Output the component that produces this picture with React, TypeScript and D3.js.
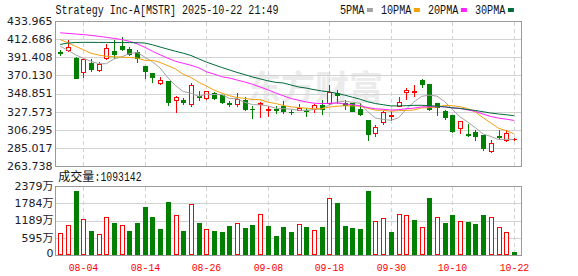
import React from "react";
import * as d3 from "d3";

const title = "Strategy Inc-A[MSTR] 2025-10-22 21:49";

const dates = [
  "07-30","07-31","08-01","08-04","08-05","08-06","08-07","08-08","08-11","08-12",
  "08-13","08-14","08-15","08-18","08-19","08-20","08-21","08-22","08-25","08-26",
  "08-27","08-28","08-29","09-02","09-03","09-04","09-05","09-08","09-09","09-10",
  "09-11","09-12","09-15","09-16","09-17","09-18","09-19","09-22","09-23","09-24",
  "09-25","09-26","09-29","09-30","10-01","10-02","10-03","10-06","10-07","10-08",
  "10-09","10-10","10-13","10-14","10-15","10-16","10-17","10-20","10-21","10-22",
];

const opens = [
  397.5, 399.8, 391.1, 373.6, 384.9, 376.4, 390.0, 399.0, 404.8, 401.3,
  397.8, 381.4, 372.9, 360.7, 363.8, 341.2, 340.8, 336.5, 346.3, 343.6,
  349.8, 347.1, 337.5, 336.1, 341.6, 331.1, 336.1, 329.5, 330.2, 333.7,
  327.5, 329.9, 329.5, 330.7, 335.7, 337.7, 349.4, 337.7, 337.7, 331.1,
  317.8, 302.6, 315.5, 322.5, 334.6, 350.6, 351.0, 364.2, 360.3, 337.3,
  328.7, 324.0, 308.0, 301.4, 304.1, 300.6, 281.5, 299.1, 294.7, 295.3,
];
const highs = [
  400.2, 411.9, 392.0, 389.6, 389.3, 385.3, 407.2, 411.1, 415.4, 402.9,
  400.2, 381.4, 373.2, 368.5, 363.8, 345.5, 343.6, 360.9, 352.1, 352.1,
  351.0, 347.4, 340.4, 349.4, 344.7, 334.6, 338.4, 333.7, 333.7, 339.6,
  329.9, 336.5, 331.9, 336.5, 341.6, 359.2, 353.3, 341.6, 337.7, 337.7,
  317.8, 312.0, 328.7, 327.9, 344.3, 355.6, 359.2, 366.2, 360.3, 337.3,
  329.9, 324.0, 316.6, 313.5, 306.4, 300.6, 294.7, 306.4, 305.6, 296.7,
];
const lows = [
  393.5, 398.2, 366.5, 367.7, 374.7, 374.7, 388.8, 390.4, 400.2, 393.5,
  385.7, 367.0, 362.3, 360.3, 334.9, 326.7, 336.5, 333.7, 340.8, 342.4,
  342.4, 338.1, 333.7, 333.7, 329.9, 319.7, 321.3, 322.8, 326.0, 326.0,
  324.8, 329.1, 322.0, 326.7, 324.8, 336.5, 337.7, 330.7, 327.9, 324.0,
  293.9, 298.6, 313.1, 317.3, 333.7, 342.4, 345.5, 356.0, 329.1, 323.2,
  319.3, 303.7, 302.6, 299.1, 294.7, 283.0, 279.9, 296.7, 292.7, 294.7,
];
const closes = [
  396.6, 402.9, 367.0, 389.3, 377.1, 383.4, 402.2, 395.5, 401.3, 395.8,
  390.8, 374.7, 367.7, 364.7, 338.9, 344.7, 339.3, 359.1, 345.1, 351.3,
  343.6, 339.3, 336.5, 342.4, 330.7, 330.3, 337.7, 330.2, 329.5, 327.9,
  326.7, 331.9, 328.7, 335.4, 330.7, 350.6, 347.1, 335.4, 328.7, 324.8,
  301.8, 309.6, 327.5, 323.2, 338.9, 353.3, 351.5, 360.3, 330.7, 333.0,
  321.3, 305.3, 316.6, 300.6, 298.6, 285.4, 290.9, 298.3, 302.6, 295.8,
];
const prevCloseBeforeFirst = 395.0;

const volumes = [
  7550000, 10300000, 22070000, 12360000, 8340000, 7210000, 13050000, 11090000, 10300000, 8340000,
  11090000, 16580000, 13150000, 9030000, 18300000, 13730000, 8340000, 17610000, 11090000, 8930000,
  8340000, 8000000, 10060000, 10990000, 9370000, 10400000, 14070000, 10060000, 6630000, 9720000,
  7760000, 10750000, 9720000, 8690000, 9720000, 19570000, 17950000, 10060000, 9370000, 9030000,
  22070000, 11780000, 12810000, 7760000, 14180000, 13840000, 12120000, 9720000, 19670000, 13050000,
  11190000, 13840000, 11780000, 11430000, 10750000, 13840000, 13050000, 9720000, 8000000, 1093142,
];

// moving-average values at the start of the window, before enough closes exist in view
const ma5Head = [404.5, 399.6, 394.3, 390.2];
const ma10Head = [412.2, 408.4, 404.2, 400.2, 396.1, 394.0, 392.5, 392.0, 391.6];
const ma20Head = [
  420.1, 419.4, 418.7, 418.0, 417.1, 416.0, 414.8, 413.5, 412.2, 410.1,
  407.2, 403.1, 398.4, 394.3, 390.2, 386.7, 384.3, 382.0, 379.1,
];
const ma30Head = [
  406.4, 408.1, 408.7, 408.9, 408.9, 408.8, 408.8, 408.7, 408.7, 408.6,
  408.5, 408.1, 406.0, 403.4, 400.9, 398.4, 396.2, 393.5, 389.6, 385.8,
  382.6, 379.5, 376.5, 373.6, 371.0, 368.3, 366.0, 363.8, 362.0,
];

const maPeriods = [5, 10, 20, 30];
const maHeads = [ma5Head, ma10Head, ma20Head, ma30Head];
const maLabels = ["5PMA", "10PMA", "20PMA", "30PMA"];
const maColors = ["#a3a3a3", "#f3a10b", "#ff22ff", "#006a3a"];

const priceTicks = [433.965, 412.686, 391.408, 370.13, 348.851, 327.573, 306.295, 285.017, 263.738];
const volumeTicksWan = [2379, 1784, 1189, 595, 0];
const dateTicks = ["08-04", "08-14", "08-26", "09-08", "09-18", "09-30", "10-10", "10-22"];

const RED = "#ff0000";
const GREEN = "#008000";
const GRID = "#d2d2d2";
const BORDER = "#9a9a9a";
const MONO = "Liberation Mono, DejaVu Sans Mono, monospace";

export default function App() {
  const W = 578, H = 276;
  const L = 55, R = 522, T = 21, B = 166, VT = 186, VB = 255;

  const x = d3.scaleLinear().domain([0, dates.length - 1]).range([60.2, 513.9]);
  const y = d3.scaleLinear().domain([263.738, 433.965]).range([B, T]);
  const vy = d3.scaleLinear().domain([0, 23790000]).range([VB, VT]);

  const ma = (n: number, head: number[]) =>
    closes.map((_, i) => (i >= n - 1 ? d3.mean(closes.slice(i - n + 1, i + 1)) as number : head[i]));
  const maSeries = maPeriods.map((n, k) => ma(n, maHeads[k]));
  const line = d3.line<number>().x((_, i) => x(i)).y((d) => y(d));

  const px = (i: number) => Math.round(x(i));

  const candles = dates.map((d, i) => {
    const o = opens[i], c = closes[i], h = highs[i], l = lows[i];
    const up = c > o;
    const color = up ? RED : GREEN;
    const cx = px(i);
    const yTop = Math.round(y(Math.max(o, c)));
    const yBot = Math.round(y(Math.min(o, c)));
    const yH = Math.round(y(h));
    const yL = Math.round(y(l));
    const elems: React.ReactNode[] = [];
    elems.push(<line key="w" x1={cx + 0.5} x2={cx + 0.5} y1={yH} y2={yL + 1} stroke={color} strokeWidth={1} />);
    if (yBot - yTop < 1) {
      elems.push(<line key="d" x1={cx - 2} x2={cx + 3} y1={yTop + 0.5} y2={yTop + 0.5} stroke={color} strokeWidth={1} />);
    } else if (up) {
      elems.push(<rect key="b" x={cx - 1.5} y={yTop + 0.5} width={4} height={yBot - yTop} fill="#fff" stroke={color} strokeWidth={1} />);
    } else {
      elems.push(<rect key="b" x={cx - 2} y={yTop} width={5} height={yBot - yTop + 1} fill={color} />);
    }
    return <g key={d}>{elems}</g>;
  });

  const volBars = volumes.map((v, i) => {
    const prev = i === 0 ? prevCloseBeforeFirst : closes[i - 1];
    const up = closes[i] >= prev;
    const cx = px(i);
    const top = Math.round(vy(v));
    if (up) {
      return <rect key={dates[i]} x={cx - 1.5} y={top + 0.5} width={4} height={Math.max(0, VB - top - 1)} fill="#fff" stroke={RED} strokeWidth={1} />;
    }
    return <rect key={dates[i]} x={cx - 2} y={top} width={5} height={VB - top} fill={GREEN} />;
  });

  // legend layout
  let cursor = 340;
  const charW = 6.1;
  const legend = maLabels.map((lab, k) => {
    const tx = cursor;
    const tw = lab.length * charW;
    const sx = tx + tw + 2.5;
    cursor = sx + 6 + 8;
    return (
      <g key={lab}>
        <text x={tx} y={13.5} fontFamily={MONO} fontSize={12} textLength={tw} lengthAdjust="spacingAndGlyphs" fill="#111">{lab}</text>
        <rect x={sx} y={8} width={6} height={4} fill={maColors[k]} />
      </g>
    );
  });

  const tickXs = dateTicks.map((d) => Math.round(x(dates.indexOf(d))) + 0.5);

  return (
    <svg width={W} height={H} viewBox={`0 0 ${W} ${H}`} style={{ position: "absolute", left: 0, top: 0, background: "#fff" }}>
      <rect x={0} y={0} width={W} height={H} fill="#fff" />
      {/* title + legend */}
      <text x={55.5} y={13.5} fontFamily={MONO} fontSize={12} textLength={223} lengthAdjust="spacingAndGlyphs" fill="#111">{title}</text>
      {legend}

      {/* watermark */}
      <text x={247} y={100} fontFamily="Noto Sans CJK SC" fontWeight={700} fontSize={34} fill="#ebebeb">东方财富</text>

      {/* price grid */}
      {priceTicks.slice(1, -1).map((t) => (
        <line key={t} x1={L} x2={R} y1={Math.round(y(t)) + 0.5} y2={Math.round(y(t)) + 0.5} stroke={GRID} strokeWidth={1} />
      ))}
      {tickXs.map((tx, k) => (
        <line key={"pv" + k} x1={tx} x2={tx} y1={T + 1} y2={B} stroke={GRID} strokeWidth={1} strokeDasharray="4,3" />
      ))}
      {/* volume grid */}
      {volumeTicksWan.slice(1, -1).map((t) => (
        <line key={"vg" + t} x1={L} x2={R} y1={Math.round(vy(t * 10000)) + 0.5} y2={Math.round(vy(t * 10000)) + 0.5} stroke={GRID} strokeWidth={1} />
      ))}
      {tickXs.map((tx, k) => (
        <line key={"vv" + k} x1={tx} x2={tx} y1={VT + 1} y2={VB} stroke={GRID} strokeWidth={1} strokeDasharray="4,3" />
      ))}

      {/* candles */}
      {candles}

      {/* moving averages */}
      {maSeries.map((s, k) => (
        <path key={maLabels[k]} d={line(s) || ""} fill="none" stroke={maColors[k]} strokeWidth={1} />
      ))}

      {/* volume */}
      {volBars}

      {/* borders */}
      <rect x={L + 0.5} y={T + 0.5} width={R - L - 1} height={B - T} fill="none" stroke={BORDER} strokeWidth={1} />
      <rect x={L + 0.5} y={VT + 0.5} width={R - L - 1} height={VB - VT} fill="none" stroke={BORDER} strokeWidth={1} />

      {/* price labels */}
      {priceTicks.map((t) => (
        <text key={"pl" + t} x={52.5} y={y(t)} dy="0.36em" textAnchor="end" fontFamily="DejaVu Sans" fontSize={11} fill="#1c1c28">{t.toFixed(3)}</text>
      ))}

      {/* volume header */}
      <text x={58.3} y={181} fontFamily="Noto Sans CJK SC" fontSize={12} fill="#111">成交量</text>
      <text x={94.5} y={181} fontFamily={MONO} fontSize={12} textLength={47} lengthAdjust="spacingAndGlyphs" fill="#111">{":" + volumes[volumes.length - 1]}</text>

      {/* volume labels */}
      {volumeTicksWan.map((t) => (
        <text key={"vl" + t} x={53.5} y={Math.min(vy(t * 10000), VB - 1.5)} dy="0.36em" textAnchor="end" fontFamily="DejaVu Sans, Noto Sans CJK SC" fontSize={11} fill="#1c1c28">{t === 0 ? "0" : t + "万"}</text>
      ))}

      {/* date labels */}
      {dateTicks.map((d, k) => (
        <text key={"dl" + d} x={tickXs[k]} y={270.5} textAnchor="middle" fontFamily={MONO} fontSize={11} textLength={29.6} lengthAdjust="spacingAndGlyphs" fill={RED}>{d}</text>
      ))}
    </svg>
  );
}
